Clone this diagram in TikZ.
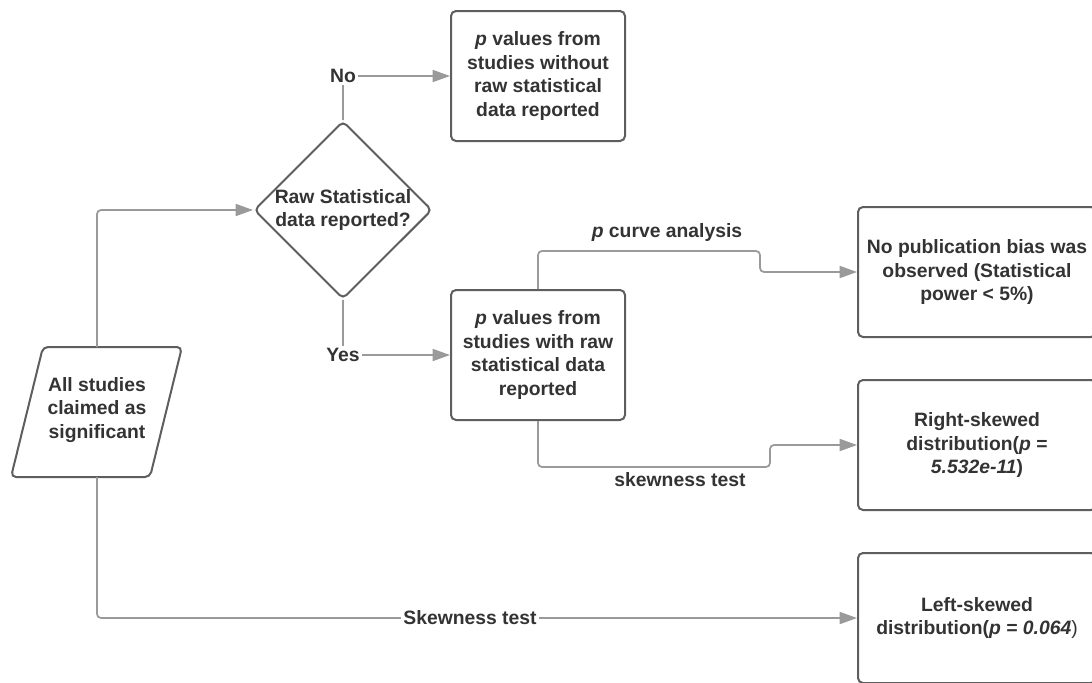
\documentclass[tikz,border=0pt]{standalone}
\usepackage{fontspec}
\setmainfont{Liberation Sans}
\usetikzlibrary{arrows.meta,shapes.geometric}
\definecolor{txt}{HTML}{333333}
\definecolor{bord}{HTML}{5E5E5E}
\definecolor{conn}{HTML}{9A9A9A}
\begin{document}
\begin{tikzpicture}[x=0.75pt,y=-0.75pt,
  every node/.style={font=\fontsize{14.5}{17.6}\selectfont\bfseries, text=txt},
  box/.style={draw=bord, line width=1.5pt, rounded corners=3.75pt, minimum width=130.5pt, minimum height=97.5pt, align=center, inner sep=0pt},
  widebox/.style={box, minimum width=178.5pt},
  decision/.style={diamond, draw=bord, line width=1.5pt, rounded corners=3.75pt, minimum width=133.5pt, minimum height=130.5pt, align=center, inner sep=0pt},
  connector/.style={draw=conn, line width=1.3pt, rounded corners=3pt, -{Triangle[length=13pt,width=9pt]}},
  lab/.style={fill=white, inner sep=1.5pt},
  shapeline/.style={draw=bord, line width=1.5pt, rounded corners=3.75pt}
]
\useasboundingbox (0,0) rectangle (1092,682);

% nodes
\node[box] (p1) at (538,76) {\textit{p} values from\\studies without\\raw statistical\\data reported};
\node[box] (p2) at (538,355) {\textit{p} values from\\studies with raw\\statistical data\\reported};
\node[widebox] (p3) at (977,272) {No publication bias was\\observed (Statistical\\power < 5\%)};
\node[widebox] (p4) at (977,445) {Right-skewed\\distribution(\textit{p} =\\\textit{5.532e-11})};
\node[widebox] (p5) at (977,618) {Left-skewed\\distribution(\textit{p = 0.064}{\mdseries )}};
\node[decision] (dec) at (343,210) {Raw Statistical\\data reported?};

% start parallelogram
\draw[shapeline] (43,347) -- (182,347) -- (150,477) -- (11,477) -- cycle;
\node[align=center] (start) at (97,410) {All studies\\claimed as\\significant};
\coordinate (sTop) at (97,347);
\coordinate (sBot) at (97,477);
\coordinate (j1) at (760,251);
\coordinate (j2) at (770,467);

% connectors
\draw[connector] (sTop) |- (dec.west);
\draw[connector] (dec.north) |- (p1.west);
\draw[connector] (dec.south) |- (p2.west);
\draw[connector] (p2.north) |- (j1) |- (p3.west);
\draw[connector] (p2.south) |- (j2) |- (p4.west);
\draw[connector] (sBot) |- (p5.west);

% labels
\node[lab] (lno) at (dec.north |- p1.west) {No};
\node[lab] (lyes) at (dec.south |- p2.west) {Yes};
\node (lpc) at (667,232) {\textit{p} curve analysis};
\node (lsk) at (680,480) {skewness test};
\node[lab] (lsk2) at (470,618) {Skewness test};
\end{tikzpicture}
\end{document}
